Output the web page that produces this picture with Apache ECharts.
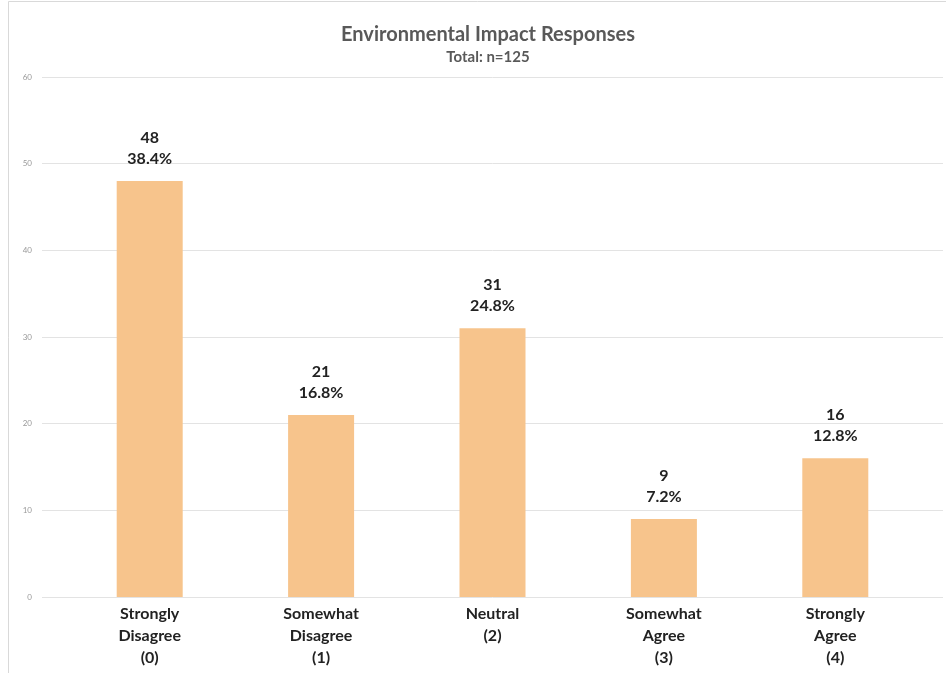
<!DOCTYPE html>
<html>
<head>
<meta charset="utf-8">
<script src="https://cdn.jsdelivr.net/npm/echarts@6/dist/echarts.min.js"></script>
<style>html,body{margin:0;padding:0;background:#fff;}#c{width:946px;height:673px;}</style>
</head>
<body>
<div id="c"></div>
<script>
var categories = ['Strongly\nDisagree\n(0)', 'Somewhat\nDisagree\n(1)', 'Neutral\n(2)', 'Somewhat\nAgree\n(3)', 'Strongly\nAgree\n(4)'];
var counts = [48, 21, 31, 9, 16];
var percents = ['38.4%', '16.8%', '24.8%', '7.2%', '12.8%'];
var yTicks = [0, 10, 20, 30, 40, 50, 60];

var FONT = 'Lato, "Open Sans", sans-serif';
var chart = echarts.init(document.getElementById('c'));
chart.setOption({
  backgroundColor: '#fff',
  animation: false,
  graphic: [{
    type: 'rect', shape: {x: 8.5, y: 1.5, width: 960, height: 700},
    style: {fill: 'none', stroke: '#d9d9d9', lineWidth: 1}, silent: true, z: -1
  }],
  title: {
    text: 'Environmental Impact Responses',
    subtext: 'Total: n=125',
    left: 483, textAlign: 'center', top: 20, itemGap: 5,
    textStyle: {fontFamily: FONT, fontSize: 20, fontWeight: 'bold', color: '#595959'},
    subtextStyle: {fontFamily: FONT, fontSize: 15, fontWeight: 'bold', color: '#595959'}
  },
  grid: [
    {left: 42, right: 3, top: 77, bottom: 76},
    {left: 64, right: 25, top: 77, bottom: 76}
  ],
  xAxis: [
    {type: 'category', gridIndex: 0, data: categories, show: false},
    {type: 'category', gridIndex: 1, data: categories,
      axisLine: {show: false}, axisTick: {show: false},
      axisLabel: {fontFamily: FONT, fontSize: 16, fontWeight: 'bold', color: '#222', lineHeight: 22, margin: 6, interval: 0}}
  ],
  yAxis: [
    {type: 'value', gridIndex: 0, min: yTicks[0], max: yTicks[yTicks.length - 1], interval: 10,
      axisLine: {show: false}, axisTick: {show: false},
      axisLabel: {fontFamily: FONT, fontSize: 8, color: '#999', margin: 10},
      splitLine: {lineStyle: {color: '#e3e3e3', width: 1}}},
    {type: 'value', gridIndex: 1, min: yTicks[0], max: yTicks[yTicks.length - 1], interval: 10, show: false}
  ],
  series: [{
    type: 'bar', xAxisIndex: 1, yAxisIndex: 1,
    data: counts, barWidth: 66,
    itemStyle: {color: '#F7C48C'},
    label: {
      show: true, position: 'top', distance: 12,
      fontFamily: FONT, fontSize: 16, fontWeight: 'bold', color: '#222', lineHeight: 21,
      formatter: function (p) { return p.value + '\n' + percents[p.dataIndex]; }
    }
  }]
});
</script>
</body>
</html>
